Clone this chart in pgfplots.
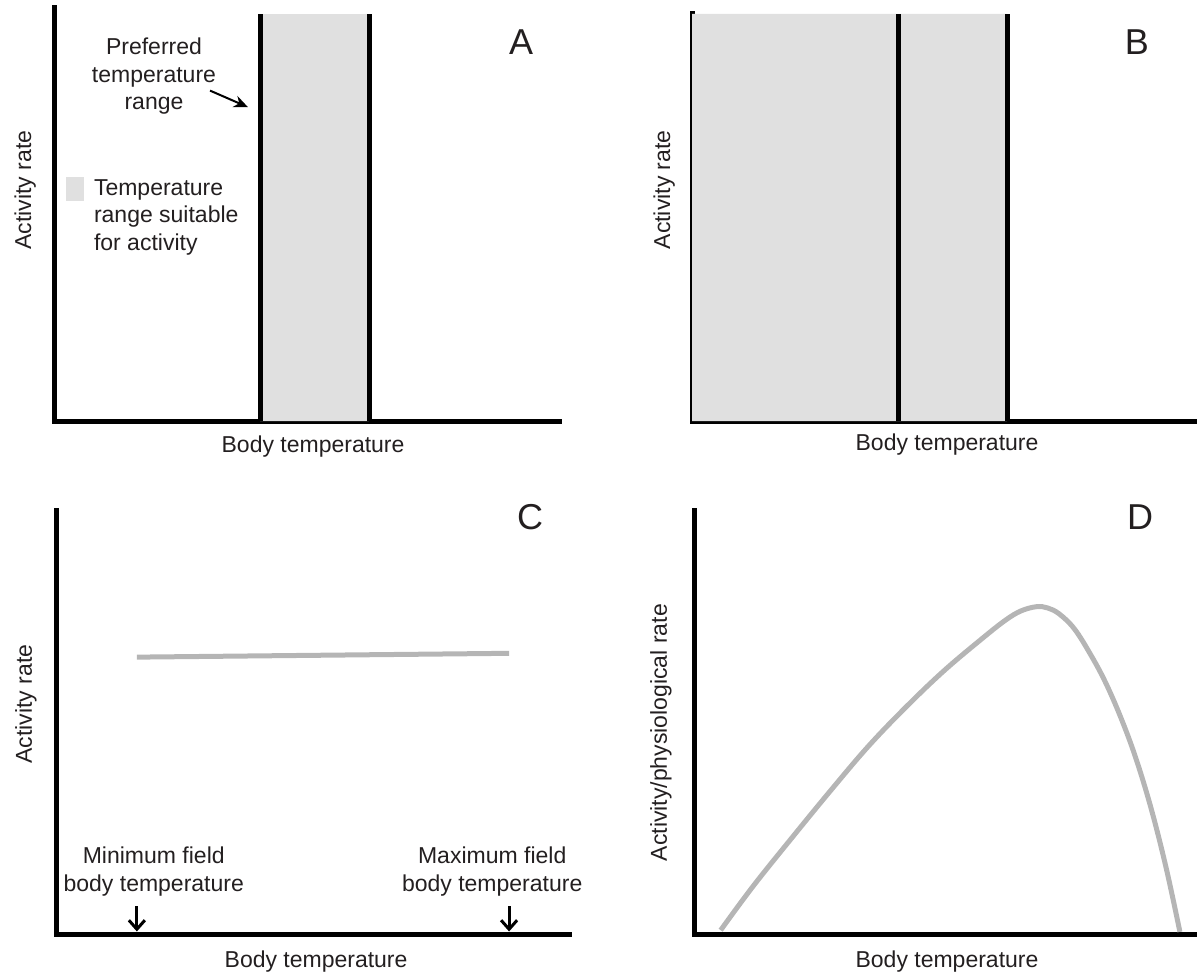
\documentclass[border=0pt]{standalone}
\usepackage{pgfplots}
\pgfplotsset{compat=1.18}
\usepackage{fontspec}
\setmainfont{Liberation Sans}
\usetikzlibrary{arrows.meta}
\definecolor{bandgray}{HTML}{E0E0E0}
\definecolor{curvegray}{HTML}{B5B5B5}
\definecolor{txt}{HTML}{231F20}
\newcommand{\lbl}{\fontsize{11.5}{13.75}\selectfont}
\newcommand{\plbl}{\fontsize{18}{21}\selectfont}
\pgfplotsset{
  panel/.style={
    scale only axis,
    axis lines=left,
    axis line style={-, line width=2.5pt, black, line cap=rect},
    xtick=\empty, ytick=\empty,
    xmin=0, xmax=100, ymin=0, ymax=100,
    clip=false,
    anchor=south west,
    every axis x label/.style={anchor=center, font=\lbl, text=txt},
    every axis y label/.style={anchor=center, rotate=90, font=\lbl, text=txt},
  },
}
\begin{document}
\begin{tikzpicture}
\path[use as bounding box] (0,0) rectangle (598.5pt,488pt);

% ---------------- A ----------------
\begin{axis}[panel,
  at={(27pt,277.5pt)}, width=252.5pt, height=206.5pt,
  xlabel={Body temperature}, x label style={at={(axis cs:51.3,-6.3)}},
  ylabel={Activity rate}, y label style={at={(axis cs:-5.7,55.9)}},
  legend style={draw=none, fill=none, at={(axis cs:2.3,59.5)}, anchor=north west,
    font=\lbl, text=txt, cells={align=left, anchor=west}, inner sep=0pt},
]
\addplot[fill=bandgray, draw=none,
  legend image code/.code={\fill[bandgray] (0pt,8pt) rectangle (9pt,20pt); \path (12pt,14pt);}]
  coordinates {(40.8,0) (40.8,98.5) (62.4,98.5) (62.4,0)} \closedcycle;
\addlegendentry{Temperature\\range suitable\\for activity}
\addplot[black, line width=2.5pt, forget plot] coordinates {(40.8,0) (40.8,98.5)};
\addplot[black, line width=2.5pt, forget plot] coordinates {(62.4,0) (62.4,98.5)};
\node[font=\plbl, text=txt] at (axis cs:92.5,91.8) {A};
\node[align=center, font=\lbl, text=txt] at (axis cs:19.8,83.5) {Preferred\\temperature\\range};
\draw[-{Stealth[length=7pt,width=6pt]}, line width=1pt, black] (axis cs:30.9,80.0) -- (axis cs:38.4,76.0);
\end{axis}

% ---------------- B ----------------
\begin{axis}[panel,
  at={(346pt,277.5pt)}, width=252.5pt, height=203.5pt,
  xlabel={Body temperature}, x label style={at={(axis cs:50.5,-5.9)}},
  ylabel={Activity rate}, y label style={at={(axis cs:-5.5,56.8)}},
]
\addplot[fill=bandgray, draw=none] coordinates {(0,0) (0,100) (62.4,100) (62.4,0)} \closedcycle;
\addplot[black, line width=2.5pt] coordinates {(40.8,0) (40.8,100)};
\addplot[black, line width=2.5pt] coordinates {(62.4,0) (62.4,100)};
\node[font=\plbl, text=txt] at (axis cs:88.1,93.1) {B};
\end{axis}

% ---------------- C ----------------
\begin{axis}[panel,
  at={(28.5pt,21pt)}, width=256pt, height=212pt,
  xlabel={Body temperature}, x label style={at={(axis cs:50.6,-6.6)}},
  ylabel={Activity rate}, y label style={at={(axis cs:-6.05,54.2)}},
]
\addplot[curvegray, line width=2.5pt] coordinates {(15.6,65.3) (88.3,66.2)};
\addplot[black, line width=1.5pt, -{Straight Barb[length=4.5pt,width=8pt]}] coordinates {(15.6,6.6) (15.6,0.6)};
\addplot[black, line width=1.5pt, -{Straight Barb[length=4.5pt,width=8pt]}] coordinates {(88.3,6.6) (88.3,0.6)};
\node[font=\plbl, text=txt] at (axis cs:92.4,98.3) {C};
\node[align=center, font=\lbl, text=txt] at (axis cs:18.9,14.7) {Minimum field\\body temperature};
\node[align=center, font=\lbl, text=txt] at (axis cs:85.0,14.7) {Maximum field\\body temperature};
\end{axis}

% ---------------- D ----------------
\begin{axis}[panel,
  at={(347pt,21pt)}, width=251.5pt, height=212pt,
  xlabel={Body temperature}, x label style={at={(axis cs:50.3,-6.6)}},
  ylabel={Activity/physiological rate}, y label style={at={(axis cs:-6.6,47.5)}},
]
\addplot[curvegray, line width=2.5pt, smooth, tension=0.6] coordinates {
  (5.3,0.9) (11.7,11.2) (19.4,22.6) (27.0,33.6) (34.6,44.2) (42.2,53.6)
  (49.8,62.2) (57.4,69.8) (61.9,74.0) (65.0,76.2) (68.1,77.2) (70.3,76.9)
  (72.6,75.5) (75.6,72.0) (78.7,66.2) (81.7,59.6) (84.8,51.2) (87.8,41.6)
  (90.9,29.5) (93.9,15.4) (96.6,0.5)};
\node[font=\plbl, text=txt] at (axis cs:88.7,98.3) {D};
\end{axis}
\end{tikzpicture}
\end{document}
